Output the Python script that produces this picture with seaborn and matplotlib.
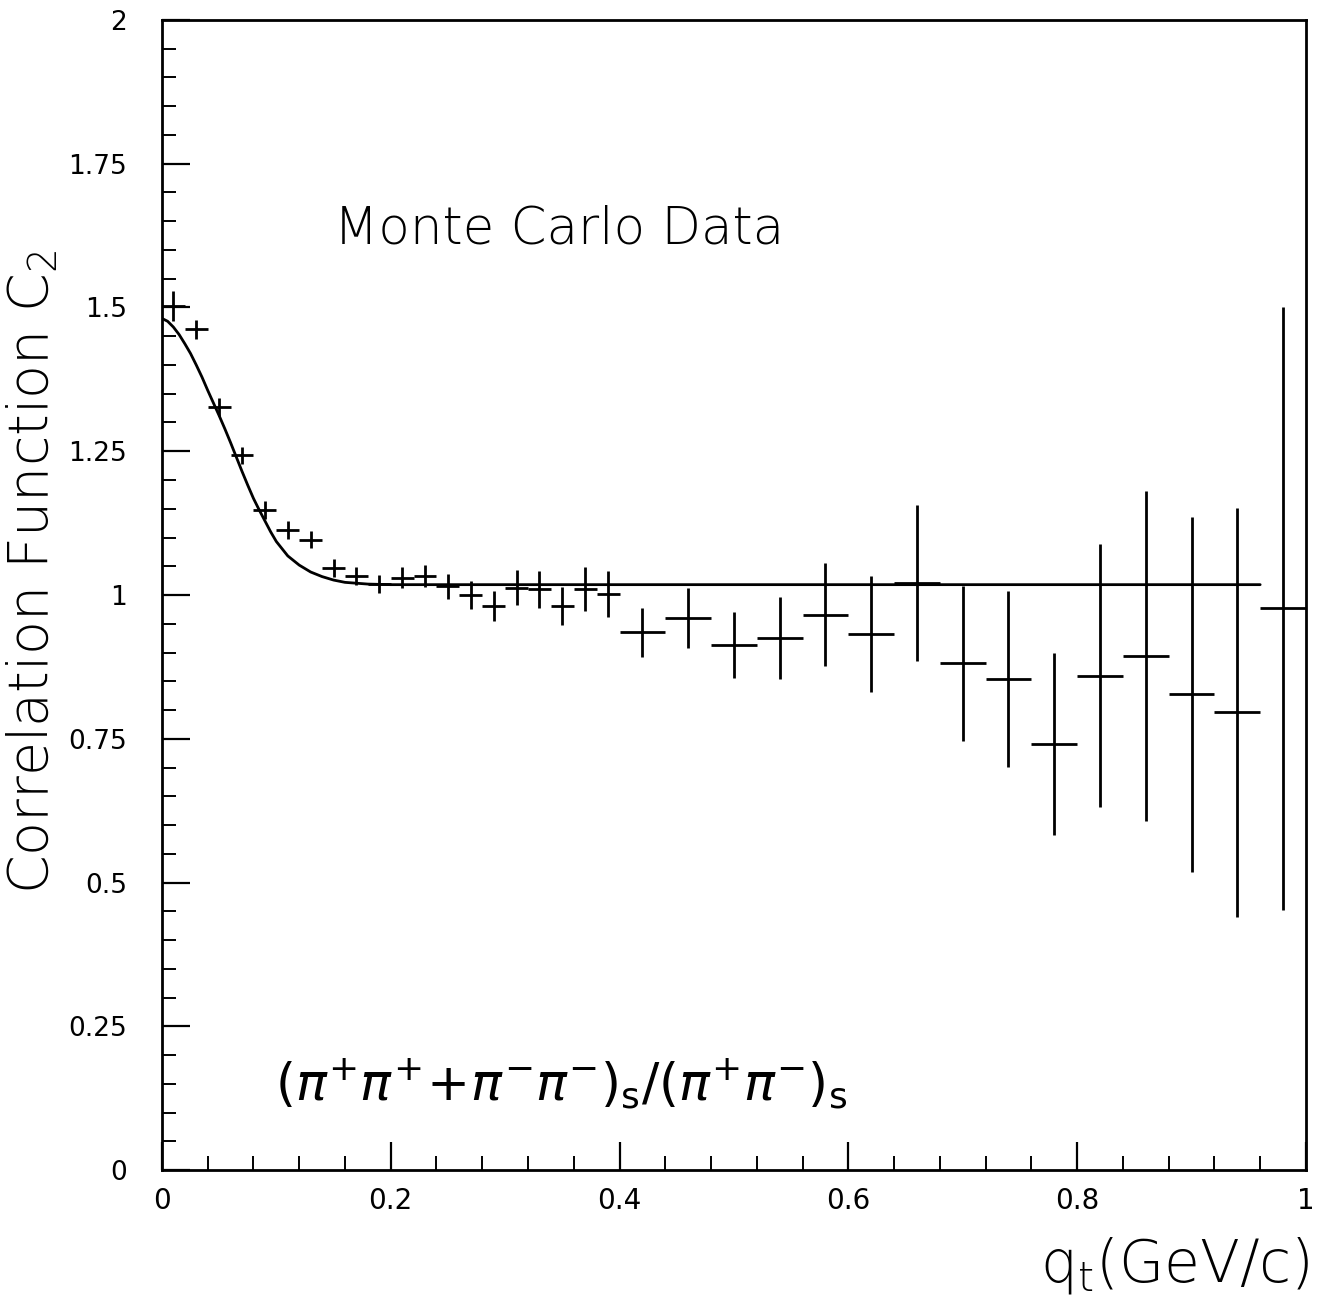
import matplotlib
matplotlib.use("Agg")
import matplotlib.pyplot as plt
from matplotlib.ticker import MultipleLocator, FixedLocator, FixedFormatter
import seaborn as sns
import pandas as pd

# Measured correlation function C2 vs q_t (bin centres, values, statistical errors)
q_fine = [0.01, 0.03, 0.05, 0.07, 0.09, 0.11, 0.13, 0.15, 0.17, 0.19,
          0.21, 0.23, 0.25, 0.27, 0.29, 0.31, 0.33, 0.35, 0.37, 0.39]
c2_fine = [1.502, 1.462, 1.327, 1.243, 1.148, 1.113, 1.096, 1.047, 1.033, 1.019,
           1.030, 1.033, 1.015, 1.000, 0.981, 1.013, 1.010, 0.981, 1.010, 1.002]
err_fine = [0.026, 0.017, 0.015, 0.015, 0.015, 0.015, 0.015, 0.015, 0.016, 0.016,
            0.018, 0.019, 0.022, 0.024, 0.026, 0.030, 0.032, 0.033, 0.038, 0.040]

q_coarse = [0.42, 0.46, 0.50, 0.54, 0.58, 0.62, 0.66, 0.70, 0.74, 0.78,
            0.82, 0.86, 0.90, 0.94, 0.98]
c2_coarse = [0.935, 0.960, 0.913, 0.925, 0.966, 0.932, 1.021, 0.881, 0.854, 0.741,
             0.860, 0.894, 0.827, 0.796, 0.977]
err_coarse = [0.042, 0.053, 0.058, 0.071, 0.089, 0.101, 0.136, 0.135, 0.153, 0.158,
              0.228, 0.287, 0.309, 0.356, 0.524]

# Bin half-widths
hw_fine = 0.01
hw_coarse = 0.02

# Gaussian fit curve samples
fit_q = [0.0, 0.005, 0.01, 0.015, 0.02, 0.025, 0.03, 0.035, 0.04, 0.045, 0.05,
         0.055, 0.06, 0.065, 0.07, 0.075, 0.08, 0.085, 0.09, 0.095, 0.10,
         0.11, 0.12, 0.13, 0.14, 0.15, 0.16, 0.18, 0.20, 0.96]
fit_c2 = [1.481, 1.476, 1.466, 1.453, 1.437, 1.420, 1.400, 1.379, 1.356, 1.334, 1.312,
          1.289, 1.265, 1.240, 1.215, 1.191, 1.168, 1.148, 1.129, 1.110, 1.093,
          1.068, 1.052, 1.040, 1.032, 1.026, 1.022, 1.019, 1.018, 1.018]

x_ticks = [0, 0.2, 0.4, 0.6, 0.8, 1]
x_tick_labels = ["0", "0.2", "0.4", "0.6", "0.8", "1"]
y_ticks = [0, 0.25, 0.5, 0.75, 1, 1.25, 1.5, 1.75, 2]
y_tick_labels = ["0", "0.25", "0.5", "0.75", "1", "1.25", "1.5", "1.75", "2"]

sns.set_theme(style="ticks")
plt.rcParams["font.family"] = ["DejaVu Sans"]

fig = plt.figure(figsize=(13.23, 12.98), dpi=100)
ax = fig.add_axes([0.1224, 0.0986, 0.8647, 0.886])

lw = 2.0
fit_df = pd.DataFrame({"q": fit_q, "C2": fit_c2})
sns.lineplot(data=fit_df, x="q", y="C2", color="black", linewidth=lw, ax=ax,
             sort=False, estimator=None)

ax.errorbar(q_fine, c2_fine, xerr=hw_fine, yerr=err_fine, fmt="none",
            ecolor="black", elinewidth=lw, capsize=0)
ax.errorbar(q_coarse, c2_coarse, xerr=hw_coarse, yerr=err_coarse, fmt="none",
            ecolor="black", elinewidth=lw, capsize=0)

ax.set_xlim(0, 1)
ax.set_ylim(0, 2)
ax.xaxis.set_major_locator(FixedLocator(x_ticks))
ax.xaxis.set_major_formatter(FixedFormatter(x_tick_labels))
ax.yaxis.set_major_locator(FixedLocator(y_ticks))
ax.yaxis.set_major_formatter(FixedFormatter(y_tick_labels))
ax.xaxis.set_minor_locator(MultipleLocator(0.04))
ax.yaxis.set_minor_locator(MultipleLocator(0.05))

ax.tick_params(axis="both", which="major", direction="in", length=20, width=1.6,
               color="black", top=False, right=False)
ax.tick_params(axis="both", which="minor", direction="in", length=10, width=1.4,
               color="black", top=False, right=False)
ax.tick_params(axis="y", which="major", pad=25, labelsize=19, labelcolor="black")
ax.tick_params(axis="x", which="major", pad=12, labelsize=20, labelcolor="black")

for s in ax.spines.values():
    s.set_visible(True)
    s.set_color("black")
    s.set_linewidth(2.0)

ax.set_xlabel("")
ax.set_ylabel("")

label_font = dict(family="DejaVu Sans", weight="light", color="black")
fig.text(0.025, 0.560, r"Correlation Function $\mathregular{C_2}$",
         rotation=90, ha="center", va="center", fontsize=40, **label_font)
fig.text(0.990, 0.025, r"$\mathregular{q_t}$(GeV/c)", ha="right", va="center",
         fontsize=42, **label_font)

ax.text(0.150, 1.636, "Monte Carlo Data", fontsize=37, weight="light",
        ha="left", va="center", color="black")
ax.text(0.099, 0.15,
        r"$(\pi^{+}\pi^{+}\!+\!\pi^{-}\pi^{-})_{\mathrm{s}}/(\pi^{+}\pi^{-})_{\mathrm{s}}$",
        fontsize=37, ha="left", va="center", color="black")

fig.savefig("out.png", dpi=100, facecolor="white")
